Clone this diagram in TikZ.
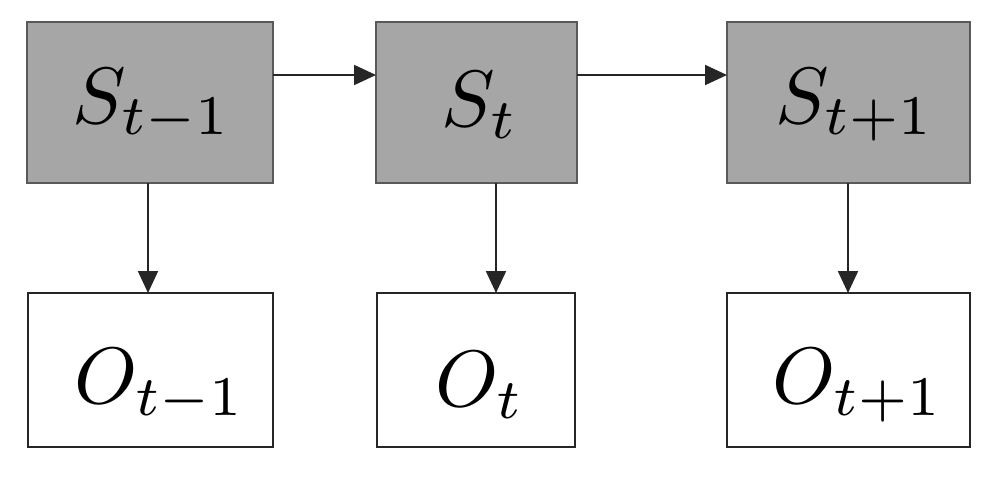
\documentclass[tikz,border=0pt]{standalone}
\usepackage{graphicx}
\usetikzlibrary{arrows.meta}
\newcommand{\biglab}[1]{\scalebox{8}{$#1$}}
\begin{document}
\begin{tikzpicture}[x=1pt,y=-1pt,
  sbox/.style={draw=gray!70!black,fill=black!35,line width=1.5pt},
  obox/.style={draw=black!85,fill=white,line width=2pt},
  lab/.style={inner sep=0pt},
  arr/.style={draw=black!85,line width=2pt,-{Triangle[length=22pt,width=20pt]}}]
\useasboundingbox (0,0) rectangle (994,479);
\draw[sbox] (27,22) rectangle (273,183);
\draw[sbox] (376,22) rectangle (577,183);
\draw[sbox] (727,22) rectangle (970,183);
\draw[obox] (28,293) rectangle (273,447);
\draw[obox] (377,293) rectangle (575,447);
\draw[obox] (727,293) rectangle (970,447);
\coordinate (s1r) at (273,75); \coordinate (s2l) at (376,75);
\coordinate (s2r) at (577,75); \coordinate (s3l) at (727,75);
\coordinate (s1b) at (148,183); \coordinate (o1t) at (148,293);
\coordinate (s2b) at (496,183); \coordinate (o2t) at (496,293);
\coordinate (s3b) at (848,183); \coordinate (o3t) at (848,293);
\node[lab] (t1) at (152,105) {\biglab{S_{t-1}}};
\node[lab] (t2) at (480,105) {\biglab{S_{t}}};
\node[lab] (t3) at (855,105) {\biglab{S_{t+1}}};
\node[lab] (b1) at (160,385) {\biglab{O_{t-1}}};
\node[lab] (b2) at (480,385) {\biglab{O_{t}}};
\node[lab] (b3) at (858,385) {\biglab{O_{t+1}}};
\draw[arr] (s1r) -- (s2l);
\draw[arr] (s2r) -- (s3l);
\draw[arr] (s1b) -- (o1t);
\draw[arr] (s2b) -- (o2t);
\draw[arr] (s3b) -- (o3t);
\end{tikzpicture}
\end{document}
